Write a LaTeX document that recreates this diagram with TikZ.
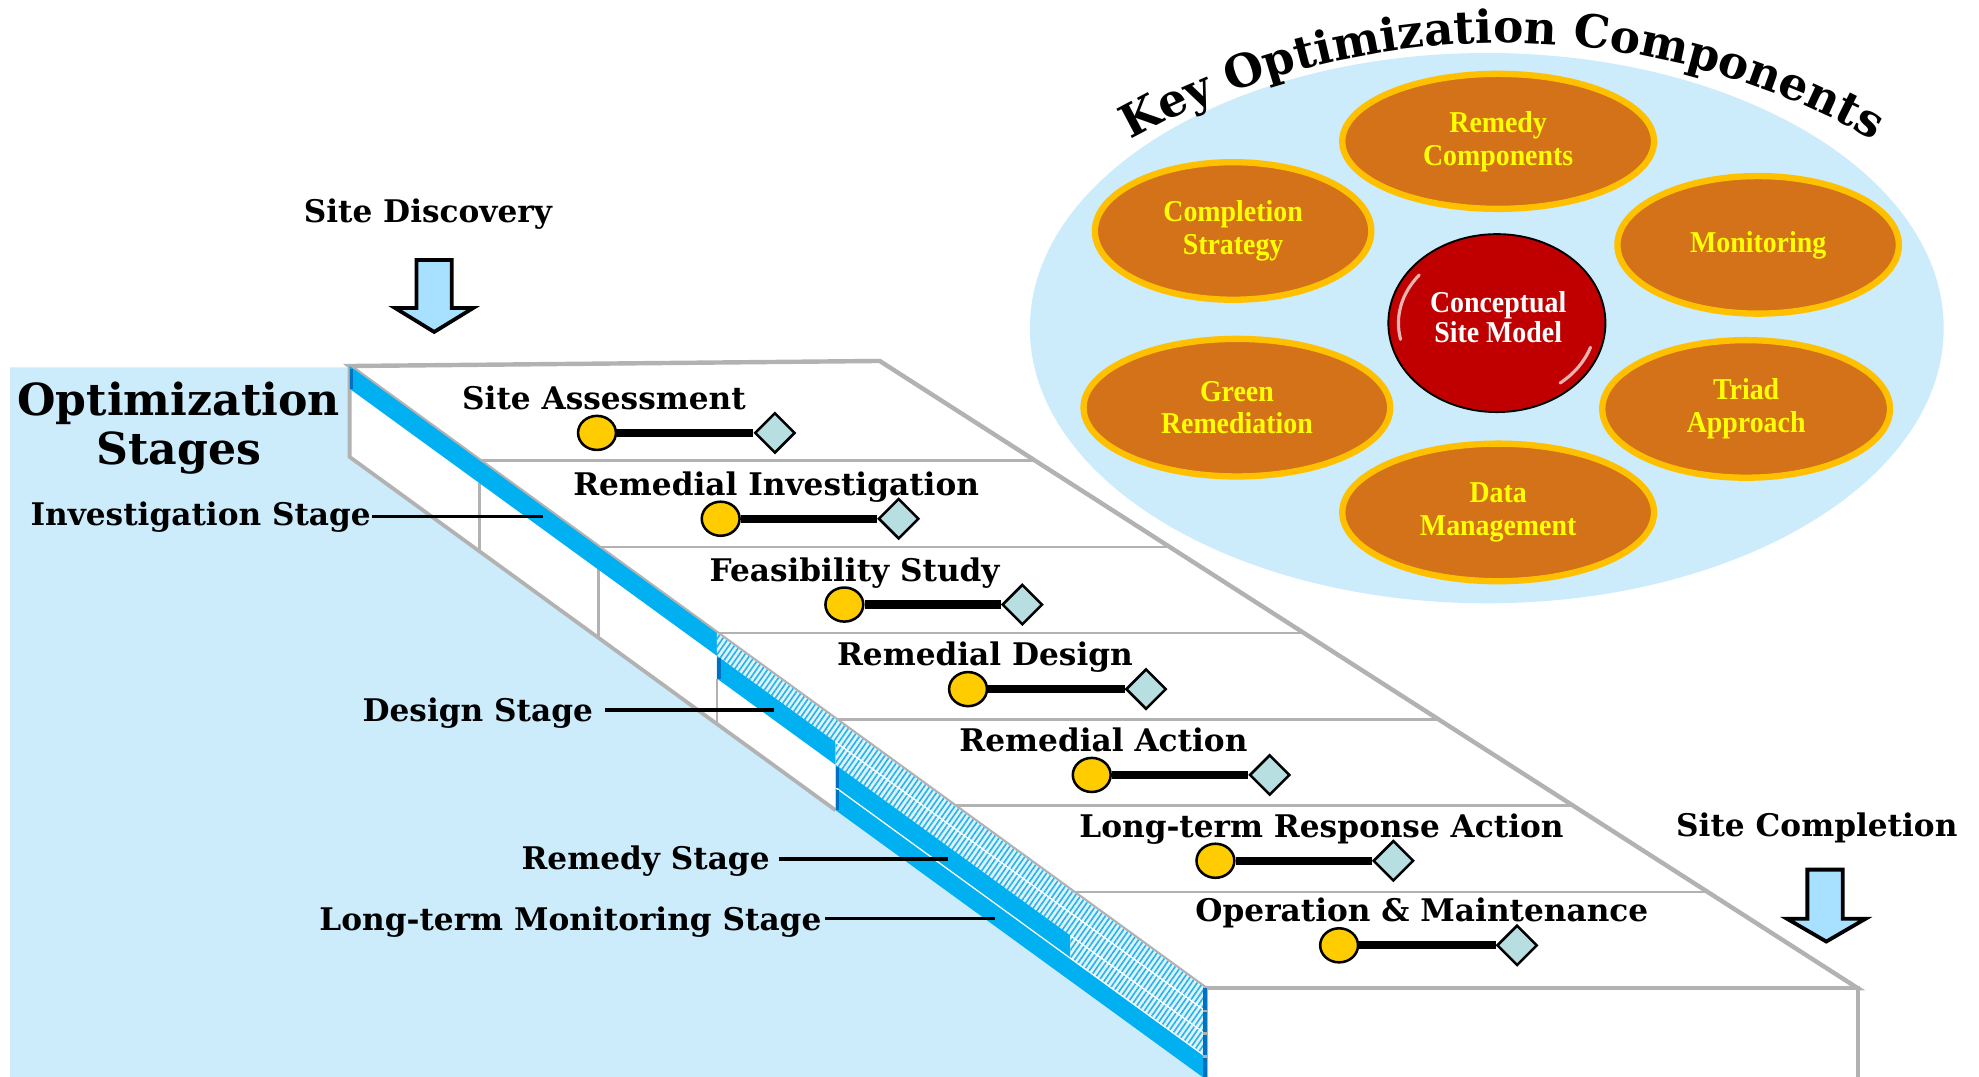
\documentclass[tikz,border=0pt]{standalone}
\usepackage{fontspec}
\setmainfont{DejaVu Serif}
\newfontfamily\tnr{Liberation Serif}[FakeStretch=0.92]
\usetikzlibrary{shapes.geometric,decorations.text,patterns.meta,calc}
\definecolor{bgblue}{RGB}{204,236,252}
\definecolor{laneblue}{RGB}{0,176,240}
\definecolor{tickblue}{RGB}{0,112,192}
\definecolor{slabgray}{RGB}{178,178,178}
\definecolor{circyellow}{RGB}{255,204,0}
\definecolor{diamteal}{RGB}{183,222,224}
\definecolor{arrowblue}{RGB}{168,224,255}
\definecolor{orfill}{RGB}{211,114,24}
\definecolor{orborder}{RGB}{255,192,0}
\definecolor{txtyellow}{RGB}{255,255,0}
\definecolor{csmred}{RGB}{192,0,0}
\definecolor{hatchbg}{RGB}{222,243,253}
\definecolor{hatchfg}{RGB}{40,180,235}
\definecolor{kocblue}{RGB}{204,235,251}
\newcommand\lanefill[4]{%
  \fill[#4] ({#2},{290+0.7271*(#2-277)+#1*18}) -- ({#3},{290+0.7271*(#3-277)+#1*18})
    -- ({#3},{290+0.7271*(#3-277)+(#1+1)*18}) -- ({#2},{290+0.7271*(#2-277)+(#1+1)*18}) -- cycle;}
\newcommand\lanetick[2]{%
  \draw[tickblue, line width=3] ({#2},{290+0.7271*(#2-277)+#1*18+1}) -- ({#2},{290+0.7271*(#2-277)+(#1+1)*18-1});}
\begin{document}
\begin{tikzpicture}[x=1pt,y=-1pt,
  txtlab/.style={font=\fontsize{24.7}{29}\selectfont\bfseries, inner sep=0pt},
  rowlab/.style={txtlab, anchor=base west},
  stagelab/.style={txtlab, anchor=base east},
  bigtitle/.style={font=\fontsize{35}{39}\selectfont\bfseries, inner sep=0pt, anchor=base},
  rowdot/.style={ellipse, draw=black, line width=2, fill=circyellow, minimum width=30, minimum height=27, inner sep=0},
  rowgem/.style={diamond, draw=black, line width=2, fill=diamteal, minimum width=32, minimum height=32, inner sep=0},
  rowbar/.style={line width=6.5, black},
  leadline/.style={line width=2.5, black},
  slabedge/.style={draw=slabgray, line width=3.5, line join=miter},
  divider/.style={slabgray, line width=2},
  bigarrow/.style={draw=black, fill=arrowblue, line width=3, line join=miter},
  compell/.style={ellipse, fill=orfill, draw=orborder, line width=5, inner sep=0, align=center, text=txtyellow, font=\tnr\bfseries\fontsize{24}{26}\selectfont},
  csmell/.style={ellipse, fill=csmred, draw=black, line width=1.5, minimum width=172, minimum height=141, inner sep=0},
  csmtxt/.style={inner sep=0, align=center, text=white, font=\tnr\bfseries\fontsize{24}{24}\selectfont},
  lanehatch/.style={preaction={fill=hatchbg}, pattern={Lines[angle=55,distance=3.6pt,line width=1.3pt]}, pattern color=hatchfg}
]
\useasboundingbox (0,0) rectangle (1568,853);
\clip (0,0) rectangle (1568,853);

% background
\fill[bgblue] (8,291) -- (280,291) -- (958,783) -- (958,856) -- (8,856) -- cycle;

% key optimization components
\node[ellipse, fill=kocblue, inner sep=0, minimum width=724, minimum height=436] (koc) at (1178,260) {};
\path[decorate, decoration={text along path, text align=center,
  text={|\fontsize{36}{36}\selectfont\bfseries|Key Optimization Components}}]
  ($(1190,634)+(-128:600)$) arc[start angle=-128, end angle=-52, radius=600];

\node[compell, minimum width=247, minimum height=107] (remcomp) at (1187,112) {Remedy\\Components};
\node[compell, minimum width=219, minimum height=109] (complstrat) at (977,183) {Completion\\Strategy};
\node[compell, minimum width=223, minimum height=109] (monit) at (1393,194) {Monitoring};
\node[compell, minimum width=243, minimum height=109] (greenrem) at (980,323) {Green\\Remediation};
\node[compell, minimum width=228, minimum height=109] (triad) at (1383.5,324) {Triad\\Approach};
\node[compell, minimum width=247, minimum height=109] (datamgmt) at (1187,406) {Data\\Management};
\node[csmell] (csm) at (1186,256) {};
\draw[white, line width=2.5, opacity=0.7, line cap=round] ($(csm.center)+(-192:78 and 62)$) arc[start angle=-192, end angle=-142, x radius=78, y radius=62];
\draw[white, line width=2.5, opacity=0.7, line cap=round] ($(csm.center)+(18:78 and 62)$) arc[start angle=18, end angle=50, x radius=78, y radius=62];
\node[csmtxt] (csmtext) at (1187,251) {Conceptual\\Site Model};

% side face of slab
\fill[white] (277,290) -- (955,783) -- (955,855) -- (277,362) -- cycle;
\draw[slabgray, line width=3] (277,290) -- (277,362) -- (662,641.9);
\draw[divider] (380,382.9) -- (380,436.9);
\draw[divider] (474,451.2) -- (474,505.2);
\draw[divider] (568,537.6) -- (568,573.6);

% top face
\filldraw[fill=white, slabedge] (277,290) -- (697,286) -- (1472,783) -- (955,783) -- cycle;
\foreach \i in {0,...,5} {
  \pgfmathsetmacro\xl{380+94*\i}
  \pgfmathsetmacro\yy{290+0.7271*(\xl-277)}
  \pgfmathsetmacro\xr{697+(\yy-286)/497*775}
  \draw[divider] (\xl,\yy) -- (\xr,\yy);
}

% stage lanes
\lanefill{0}{277}{568}{laneblue}
\lanefill{0}{568}{955}{lanehatch}
\lanefill{1}{568}{662}{laneblue}
\lanefill{1}{662}{955}{lanehatch}
\lanefill{2}{662}{848}{laneblue}
\lanefill{2}{848}{955}{lanehatch}
\lanefill{3}{662}{955}{laneblue}
\draw[white, line width=1] (662,{290+0.7271*385+18}) -- (955,801);
\draw[white, line width=1] (848,{290+0.7271*571+36}) -- (955,819);
\draw[white, line width=1] (662,{290+0.7271*385+54}) -- (955,837);
\lanetick{0}{278.5}
\lanetick{1}{569.5}
\lanetick{2}{663.5}
\lanetick{3}{663.5}

% front face
\filldraw[fill=white, slabedge] (955,783) rectangle (1472,856);
\draw[tickblue, line width=3] (955,783) -- (955,856);
\foreach \yy in {801,819,837} \draw[slabgray, line width=2] (953,\yy) -- (957.5,\yy);

% rows
\node[rowlab] (lab1) at (366,324.5) {Site Assessment};
\node[rowlab] (lab2) at (454,392.5) {Remedial Investigation};
\node[rowlab] (lab3) at (562,460.5) {Feasibility Study};
\node[rowlab] (lab4) at (663,527.5) {Remedial Design};
\node[rowlab] (lab5) at (760,595.5) {Remedial Action};
\node[rowlab] (lab6) at (855,663.5) {Long-term Response Action};
\node[rowlab] (lab7) at (947,730.5) {Operation \& Maintenance};
\foreach \cx/\cy/\n in {473/343/1,571/411/2,669/479/3,767/546/4,865/614/5,963/682/6,1061/749/7} {
  \node[rowdot] (dot\n) at (\cx,\cy) {};
  \node[rowgem] (gem\n) at (\cx+141,\cy) {};
  \draw[rowbar] (dot\n) -- (gem\n);
}

% left labels
\node[bigtitle] (opt) at (141.5,329) {Optimization};
\node[bigtitle] (stg) at (141.5,368) {Stages};
\node[stagelab] (invlab) at (294,416) {Investigation Stage};
\node[stagelab] (deslab) at (470,572) {Design Stage};
\node[stagelab] (remlab) at (610,689) {Remedy Stage};
\node[stagelab] (ltmlab) at (651,737) {Long-term Monitoring Stage};
\coordinate (invend) at (430,409);
\coordinate (desend) at (613,562.6);
\coordinate (remend) at (751,680.6);
\coordinate (ltmend) at (788,727.6);
\draw[leadline] ([xshift=1pt]invlab.base east |- invend) -- (invend);
\draw[leadline] ([xshift=9pt]deslab.base east |- desend) -- (desend);
\draw[leadline] ([xshift=7pt]remlab.base east |- remend) -- (remend);
\draw[leadline] ([xshift=2.5pt]ltmlab.base east |- ltmend) -- (ltmend);

% discovery / completion
\node[txtlab, anchor=base] (sdisc) at (339,176) {Site Discovery};
\draw[bigarrow] (330,206) -- (358,206) -- (358,244) -- (375,244) -- (344,263) -- (313,244) -- (330,244) -- cycle;
\node[txtlab, anchor=base] (scomp) at (1439.5,663) {Site Completion};
\draw[bigarrow] (1432,689) -- (1460,689) -- (1460,728) -- (1478,728) -- (1447,746) -- (1416,728) -- (1432,728) -- cycle;
\end{tikzpicture}
\end{document}
